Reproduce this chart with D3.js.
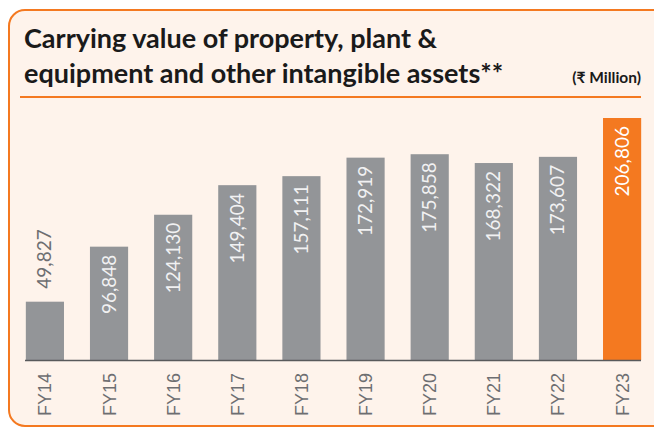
<!DOCTYPE html>
<html>
<head>
<meta charset="utf-8">
<script src="https://cdn.jsdelivr.net/npm/d3@7"></script>
<style>
  body { margin: 0; background: #fff; }
  svg { display: block; }
</style>
</head>
<body>
<script>
// data
const years = ["FY14", "FY15", "FY16", "FY17", "FY18", "FY19", "FY20", "FY21", "FY22", "FY23"];
const values = [49827, 96848, 124130, 149404, 157111, 172919, 175858, 168322, 173607, 206806];
const titleLines = ["Carrying value of property, plant &", "equipment and other intangible assets**"];
const unitLabel = "(₹ Million)";

const w = 654, h = 428;
const grey = "#939598", orange = "#f47920";

const svg = d3.select("body").append("svg")
  .attr("width", w)
  .attr("height", h);

// panel
svg.append("rect")
  .attr("x", 9).attr("y", 10)
  .attr("width", 680).attr("height", 416)
  .attr("rx", 16)
  .attr("fill", "#fef3eb")
  .attr("stroke", orange)
  .attr("stroke-width", 2);

// title
svg.selectAll(".title")
  .data(titleLines)
  .enter().append("text")
  .attr("class", "title")
  .attr("x", 24)
  .attr("y", (d, i) => 48 + i * 35)
  .attr("font-family", "Lato, sans-serif")
  .attr("font-weight", 700)
  .attr("font-size", 27)
  .attr("fill", "#1a1a1a")
  .text(d => d);

svg.append("text")
  .attr("x", 641).attr("y", 83)
  .attr("text-anchor", "end")
  .attr("font-family", "Lato, sans-serif")
  .attr("font-weight", 700)
  .attr("font-size", 15.5)
  .attr("fill", "#1a1a1a")
  .text(unitLabel);

svg.append("line")
  .attr("x1", 20).attr("x2", 641)
  .attr("y1", 97).attr("y2", 97)
  .attr("stroke", orange)
  .attr("stroke-width", 2.2);

// scales
const x = d3.scaleBand()
  .domain(years)
  .range([13, 654])
  .paddingInner(0.405)
  .paddingOuter(0.2);

const y = d3.scaleLinear()
  .domain([0, d3.max(values)])
  .range([360, 118]);

const data = years.map((d, i) => ({ year: d, value: values[i], last: i === years.length - 1 }));

// bars
svg.selectAll(".bar")
  .data(data)
  .enter().append("rect")
  .attr("class", "bar")
  .attr("x", d => x(d.year))
  .attr("y", d => y(d.value))
  .attr("width", x.bandwidth())
  .attr("height", d => y(0) - y(d.value))
  .attr("fill", d => d.last ? orange : grey);

// baseline
svg.append("line")
  .attr("x1", 25).attr("x2", 641)
  .attr("y1", 360.5).attr("y2", 360.5)
  .attr("stroke", "#58595b")
  .attr("stroke-width", 1.6);

// value labels
const fmt = d3.format(",");
svg.selectAll(".val")
  .data(data)
  .enter().append("text")
  .attr("class", "val")
  .attr("transform", (d, i) => {
    const cx = x(d.year) + x.bandwidth() / 2;
    const ty = i === 0 ? y(d.value) - 13 : y(d.value) + 8;
    return `translate(${cx + 6.5},${ty}) rotate(-90)`;
  })
  .attr("text-anchor", (d, i) => i === 0 ? "start" : "end")
  .attr("font-family", "Lato, sans-serif")
  .attr("font-weight", 400)
  .attr("font-size", 19)
  .attr("fill", (d, i) => i === 0 ? "#6d6e71" : (d.last ? "#ffffff" : "#f1f1f2"))
  .text(d => fmt(d.value));

// x axis labels
svg.selectAll(".xl")
  .data(years)
  .enter().append("text")
  .attr("class", "xl")
  .attr("transform", d => `translate(${x(d) + x.bandwidth() / 2 + 6.5},373) rotate(-90)`)
  .attr("text-anchor", "end")
  .attr("font-family", "'Liberation Sans', Arial, sans-serif")
  .attr("font-size", 18)
  .attr("fill", "#6d6e71")
  .text(d => d);
</script>
</body>
</html>
